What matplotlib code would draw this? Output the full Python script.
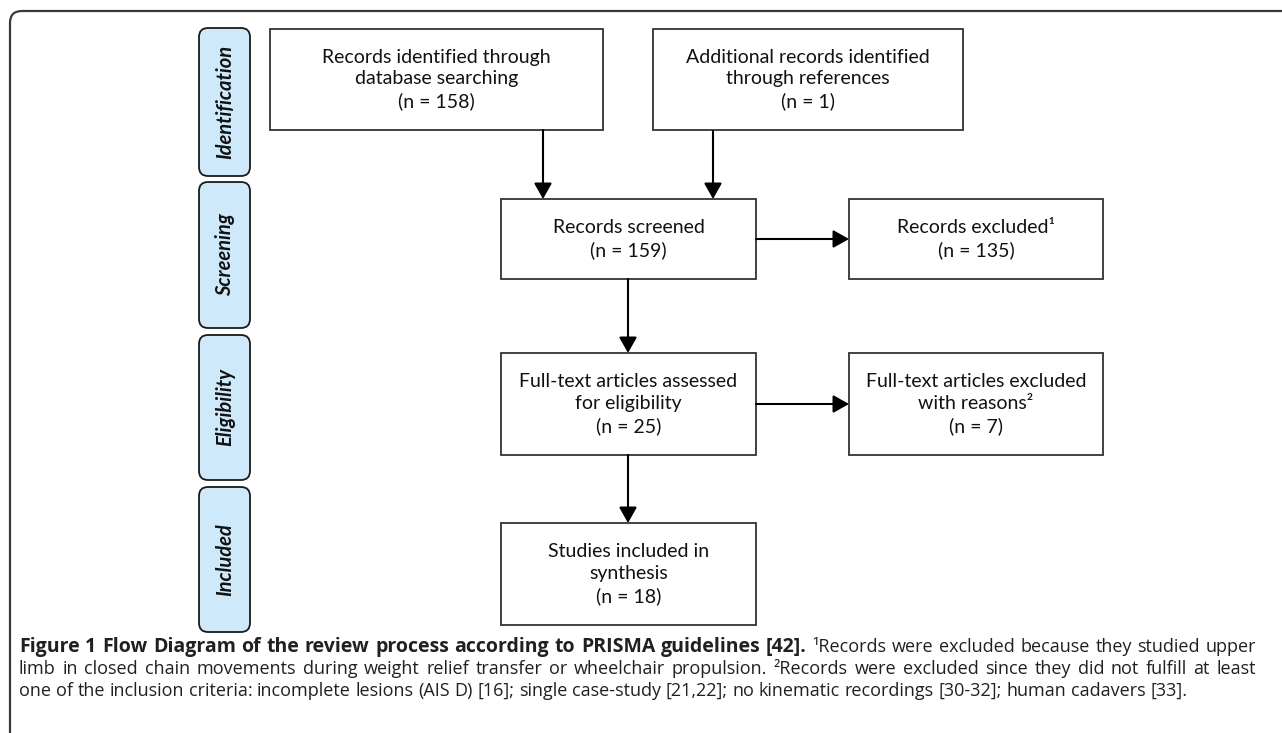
import matplotlib.pyplot as plt
from matplotlib.patches import FancyBboxPatch, Rectangle

plt.rcParams['font.family'] = ['Lato', 'DejaVu Sans']

# diagram content
stage_labels = ['Identification', 'Screening', 'Eligibility', 'Included']
box_texts = [
    'Records identified through\ndatabase searching',
    'Additional records identified\nthrough references',
    'Records screened',
    'Records excluded¹',
    'Full-text articles assessed\nfor eligibility',
    'Full-text articles excluded\nwith reasons²',
    'Studies included in\nsynthesis',
]
box_counts = [158, 1, 159, 135, 25, 7, 18]

caption_bold = 'Figure 1 Flow Diagram of the review process according to PRISMA guidelines [42].'
caption_lines = [
    '¹Records were excluded because they studied upper',
    'limb in closed chain movements during weight relief transfer or wheelchair propulsion. '
    '²Records were excluded since they did not fulfill at least',
    'one of the inclusion criteria: incomplete lesions (AIS D) [16]; single case-study [21,22]; '
    'no kinematic recordings [30-32]; human cadavers [33].',
]

# layout in pixel units (x0, y0, x1, y1)
stage_boxes = [(199, 28, 250, 176), (199, 182, 250, 328), (199, 335, 250, 480), (199, 487, 250, 632)]
boxes = [
    (270, 29, 603, 130),
    (653, 29, 963, 130),
    (501, 199, 756, 279),
    (849, 199, 1103, 279),
    (501, 353, 756, 455),
    (849, 353, 1103, 455),
    (501, 523, 756, 625),
]

W, H = 1282, 733
fig = plt.figure(figsize=(W / 100, H / 100), dpi=100)
ax = fig.add_axes([0, 0, 1, 1])
ax.set_xlim(0, W)
ax.set_ylim(H, 0)
ax.axis('off')

# outer frame, open on the right and bottom
frame = FancyBboxPatch((10, 11), 1400, 740, boxstyle='round,pad=0,rounding_size=12',
                       fc='none', ec='#3a3a3a', lw=1.6)
ax.add_patch(frame)

# stage labels
for (x0, y0, x1, y1), lab in zip(stage_boxes, stage_labels):
    ax.add_patch(FancyBboxPatch((x0, y0), x1 - x0, y1 - y0,
                                boxstyle='round,pad=0,rounding_size=9',
                                fc='#cde9fa', ec='#1a1a1a', lw=1.3))
    ax.text((x0 + x1) / 2 + 1, (y0 + y1) / 2, lab, rotation=90, ha='center', va='center',
            fontsize=14.5, fontweight='bold', fontstyle='italic', color='#111111')

# flow boxes
for (x0, y0, x1, y1), txt, n in zip(boxes, box_texts, box_counts):
    ax.add_patch(Rectangle((x0, y0), x1 - x0, y1 - y0, fc='white', ec='#333333', lw=1.3))
    ax.text((x0 + x1) / 2, (y0 + y1) / 2, f'{txt}\n(n = {n})', ha='center', va='center',
            fontsize=14, linespacing=1.33, color='#111111')


def arrow(x0, y0, x1, y1):
    ax.annotate('', xy=(x1, y1), xytext=(x0, y0),
                arrowprops=dict(arrowstyle='-|>,head_length=0.8,head_width=0.45',
                                color='black', lw=1.5, shrinkA=0, shrinkB=0,
                                mutation_scale=12))


arrow(543, 130, 543, 199)
arrow(713, 131, 713, 199)
arrow(756, 239, 849, 239)
arrow(628, 279, 628, 353)
arrow(756, 404, 849, 404)
arrow(628, 455, 628, 523)

# caption, justified like the journal layout
fig.canvas.draw()
r = fig.canvas.get_renderer()
cap_kw = dict(color='#231f20', va='baseline', ha='left')
styles = {
    'normal': dict(fontsize=13, fontweight='normal', family=['Open Sans', 'DejaVu Sans']),
    'bold': dict(fontsize=13, fontweight='bold', family=['Open Sans', 'DejaVu Sans']),
}
left, right = 19, 1256
bold_end = 793
baselines = [652, 674, 696]


def width_of(word, style):
    t = ax.text(0, 0, word, **styles[style], **cap_kw)
    w = t.get_window_extent(renderer=r).width
    t.remove()
    return w


# the bold lead-in is set wider in the journal font; size it to the same span
styles['bold']['fontsize'] = 13 * (bold_end - left) / width_of(caption_bold, 'bold')


def place_line(tokens, y, justify):
    widths = [width_of(w, st) for w, st in tokens]
    space = width_of('a b', 'normal') - width_of('ab', 'normal')
    if justify and len(tokens) > 1:
        space = (right - left - sum(widths)) / (len(tokens) - 1)
    x = left
    for (w, st), wd in zip(tokens, widths):
        ax.text(x, y, w, **styles[st], **cap_kw)
        x += wd + space


line1 = [(w, 'bold') for w in caption_bold.split()] + \
        [(w, 'normal') for w in caption_lines[0].split()]
place_line(line1, baselines[0], True)
place_line([(w, 'normal') for w in caption_lines[1].split()], baselines[1], True)
place_line([(w, 'normal') for w in caption_lines[2].split()], baselines[2], False)

fig.savefig('out.png', dpi=100)
